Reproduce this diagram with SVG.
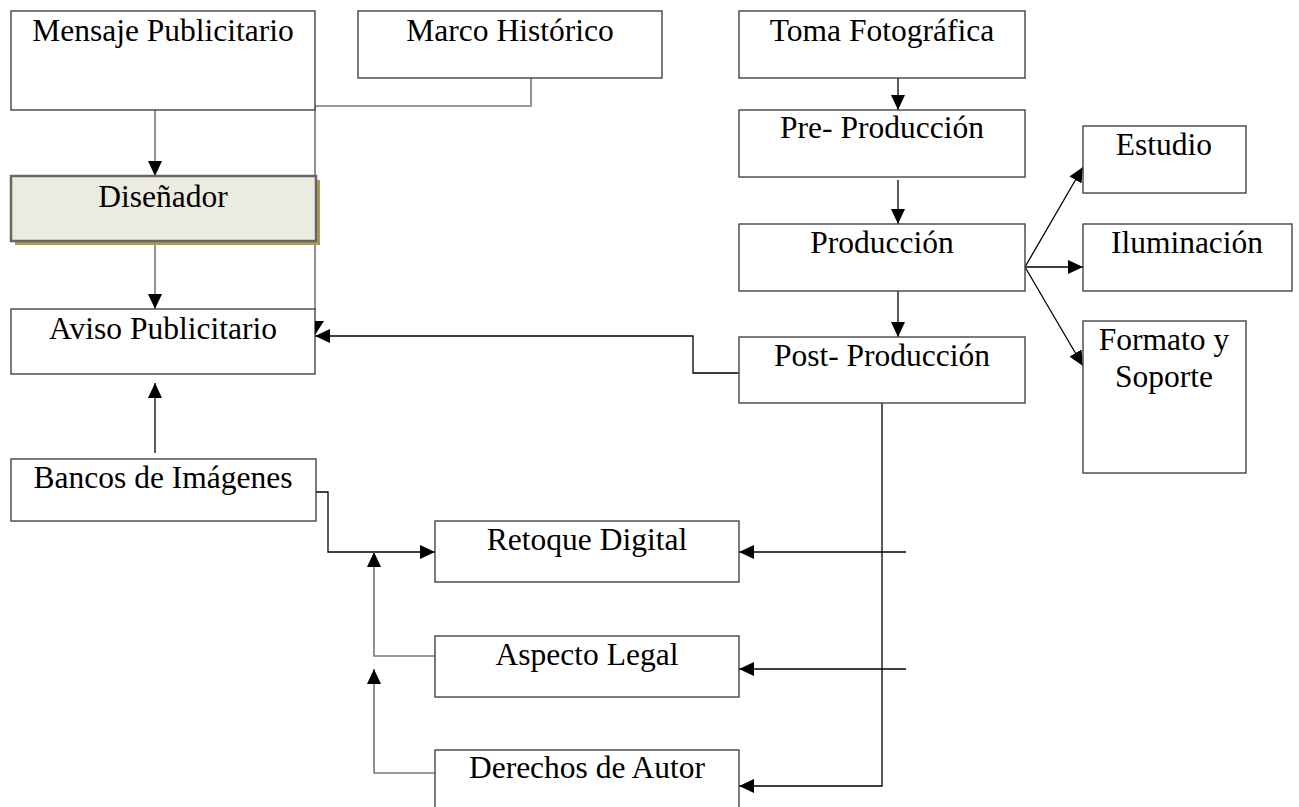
<svg xmlns="http://www.w3.org/2000/svg" width="1299" height="807" viewBox="0 0 1299 807">
<style>
.box{fill:#fff;stroke:#444;stroke-width:1.4}
.dis{fill:#ecebe0;stroke:#666;stroke-width:2.5}
.sh{fill:#ac9b55}
.t{font-family:"Liberation Serif","Times New Roman",serif;font-size:31.5px;fill:#000;text-anchor:middle}
.c{fill:none;stroke:#000;stroke-width:1.3}
.g{fill:none;stroke:#777;stroke-width:1.6}
</style>
<defs>
<marker id="ah" markerUnits="userSpaceOnUse" markerWidth="15" markerHeight="14" refX="15" refY="7" orient="auto" viewBox="0 0 15 14">
<path d="M0,0 L15,7 L0,14 z" fill="#000"/>
</marker>
</defs>
<g id="connectors">
<path class="g" d="M155,110 V176" marker-end="url(#ah)"/>
<path class="g" d="M155,244 V309" marker-end="url(#ah)"/>
<path class="c" d="M155,453 V383" marker-end="url(#ah)"/>
<path class="g" d="M531,78 V106 H315 V310"/>
<path class="c" d="M739,373 H693 V336 H315" marker-end="url(#ah)"/>
<path class="c" d="M898,78 V110" marker-end="url(#ah)"/>
<path class="c" d="M898,180 V224" marker-end="url(#ah)"/>
<path class="c" d="M898,291 V337" marker-end="url(#ah)"/>
<path class="c" d="M1025,267 L1083,167" marker-end="url(#ah)"/>
<path class="c" d="M1025,267 H1083" marker-end="url(#ah)"/>
<path class="c" d="M1025,267 L1083,366" marker-end="url(#ah)"/>
<path class="c" d="M882,403 V786 H739" marker-end="url(#ah)"/>
<path class="c" d="M906,552 H739" marker-end="url(#ah)"/>
<path class="c" d="M906,669 H739" marker-end="url(#ah)"/>
<path class="c" d="M316,492 H328 V552 H435" marker-end="url(#ah)"/>
<path class="g" d="M435,656 H374 V552" marker-end="url(#ah)"/>
<path class="g" d="M435,773 H374 V669" marker-end="url(#ah)"/>
</g>
<g id="mensaje"><rect class="box" x="11" y="11" width="304" height="99"/><text class="t" x="163" y="41">Mensaje Publicitario</text></g>
<g id="marco"><rect class="box" x="358" y="11" width="304" height="67"/><text class="t" x="510" y="41">Marco Histórico</text></g>
<g id="disenador"><rect class="sh" x="15" y="180" width="305" height="65"/><rect class="dis" x="11" y="176" width="305" height="65"/><text class="t" x="163" y="207">Diseñador</text></g>
<g id="aviso"><rect class="box" x="11" y="309" width="304" height="65"/><text class="t" x="163" y="339">Aviso Publicitario</text></g>
<polygon points="315,321 324,321 315,335" fill="#000"/>
<g id="bancos"><rect class="box" x="11" y="459" width="305" height="62"/><text class="t" x="163" y="488">Bancos de Imágenes</text></g>
<g id="retoque"><rect class="box" x="435" y="521" width="304" height="61"/><text class="t" x="587" y="550">Retoque Digital</text></g>
<g id="aspecto"><rect class="box" x="435" y="636" width="304" height="61"/><text class="t" x="587" y="665">Aspecto Legal</text></g>
<g id="derechos"><rect class="box" x="435" y="750" width="304" height="80"/><text class="t" x="587" y="778">Derechos de Autor</text></g>
<g id="toma"><rect class="box" x="739" y="11" width="286" height="67"/><text class="t" x="882" y="41">Toma Fotográfica</text></g>
<g id="pre"><rect class="box" x="739" y="110" width="286" height="67"/><text class="t" x="882" y="138">Pre- Producción</text></g>
<g id="produccion"><rect class="box" x="739" y="224" width="286" height="67"/><text class="t" x="882" y="253">Producción</text></g>
<g id="post"><rect class="box" x="739" y="337" width="286" height="66"/><text class="t" x="882" y="366">Post- Producción</text></g>
<g id="estudio"><rect class="box" x="1083" y="126" width="163" height="67"/><text class="t" x="1164" y="155">Estudio</text></g>
<g id="iluminacion"><rect class="box" x="1083" y="224" width="209" height="67"/><text class="t" x="1187" y="253">Iluminación</text></g>
<g id="formato"><rect class="box" x="1083" y="321" width="163" height="152"/><text class="t" x="1164" y="350">Formato y</text><text class="t" x="1164" y="387">Soporte</text></g>
</svg>
